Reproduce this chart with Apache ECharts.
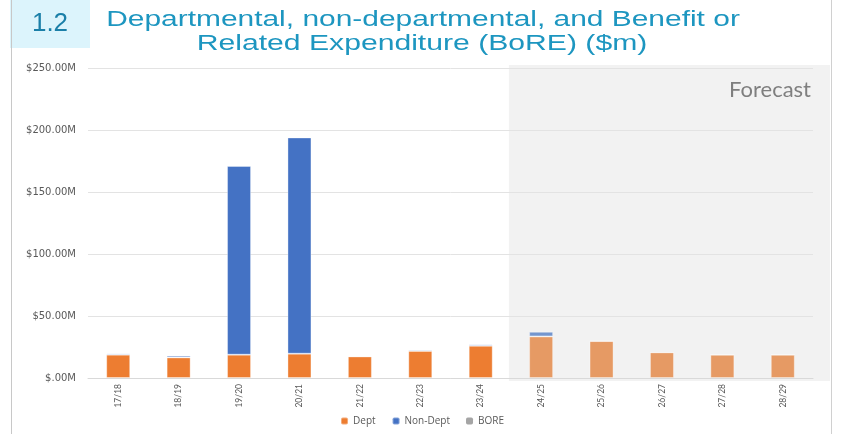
<!DOCTYPE html>
<html><head><meta charset="utf-8">
<script src="https://cdn.jsdelivr.net/npm/echarts@6/dist/echarts.min.js"></script>
<style>html,body{margin:0;padding:0;background:#fff;}#c{width:844px;height:434px;}</style>
</head><body><div id="c"></div>
<script>
const categories = ['17/18','18/19','19/20','20/21','21/22','22/23','23/24','24/25','25/26','26/27','27/28','28/29'];
const deptValues = [18.8, 16.6, 18.8, 19.6, 17.4, 21.8, 26.0, 33.5, 29.8, 20.7, 18.8, 18.8];
const nonDeptValues = [1.0, 1.4, 152.2, 174.4, 0, 1.0, 1.1, 3.8, 0, 0, 0, 0];
const boreValues = [0, 0, 0, 0, 0, 0, 0, 0, 0, 0, 0, 0];
const forecastStart = '24/25';
const yTicks = [0, 50, 100, 150, 200, 250];

const fcIdx = categories.indexOf(forecastStart);
function mk(vals, c, fc) {
  return vals.map((v, i) => ({ value: v, itemStyle: { color: i >= fcIdx ? fc : c } }));
}
const chart = echarts.init(document.getElementById('c'));
const font = 'Lato, "Open Sans", sans-serif';
const titleFont = '22px "Liberation Sans", Arial, sans-serif';
chart.setOption({
  animation: false,
  grid: { left: 88, right: 31, top: 68, bottom: 56 },
  legend: {
    bottom: 3, left: 'center', itemWidth: 7, itemHeight: 7, itemGap: 16,
    textStyle: { fontSize: 10, color: '#595959', fontFamily: '"Open Sans", sans-serif' },
    data: [{name:'Dept', itemStyle:{color:'#ED7D31'}}, {name:'Non-Dept', itemStyle:{color:'#4472C4'}}, {name:'BORE', itemStyle:{color:'#A5A5A5'}}]
  },
  xAxis: {
    type: 'category', data: categories,
    axisLine: { lineStyle: { color: '#d9d9d9' } }, axisTick: { show: false },
    axisLabel: { rotate: 90, fontSize: 8.5, color: '#595959', fontFamily: font, margin: 6 }
  },
  yAxis: {
    type: 'value', min: yTicks[0], max: yTicks[yTicks.length-1], interval: 50,
    axisLine: { show: false }, axisTick: { show: false },
    splitLine: { lineStyle: { color: '#e3e3e3' } },
    axisLabel: { fontSize: 10, color: '#595959', fontFamily: '"DejaVu Sans", sans-serif', margin: 12,
      formatter: v => v === 0 ? '$.00M' : '$' + v.toFixed(2) + 'M' }
  },
  series: [
    { name: 'Dept', type: 'bar', stack: 's', barWidth: 24, z: 3, data: mk(deptValues, '#ED7D31', '#E69A64'),
      itemStyle: { borderColor: 'rgba(255,255,255,0.35)', borderWidth: 1 } },
    { name: 'Non-Dept', type: 'bar', stack: 's', barWidth: 24, z: 3, data: mk(nonDeptValues, '#4472C4', '#7496CE'),
      itemStyle: { borderColor: 'rgba(255,255,255,0.35)', borderWidth: 1 } },
    { name: 'BORE', type: 'bar', stack: 's', barWidth: 24, z: 3, data: mk(boreValues, '#A5A5A5', '#C0C0C0') }
  ]
});

const p0 = chart.convertToPixel({ xAxisIndex: 0 }, forecastStart);
const p1 = chart.convertToPixel({ xAxisIndex: 0 }, categories[fcIdx + 1]);
const band = p1 - p0;
const xLeft = p0 - band / 2;
const yTop = chart.convertToPixel({ yAxisIndex: 0 }, yTicks[yTicks.length-1]);
const yBot = chart.convertToPixel({ yAxisIndex: 0 }, 0);
chart.setOption({
  graphic: [
    { type: 'rect', z: -10, silent: true, shape: { x: xLeft - 2, y: yTop - 3, width: 830 - xLeft + 2, height: yBot - yTop + 6 }, style: { fill: '#f2f2f2' } },
    { type: 'text', z: 10, x: 811, y: 90, style: { text: 'Forecast', fill: '#7f7f7f', font: '22px ' + font, align: 'right', verticalAlign: 'middle' } },
    { type: 'rect', z: 5, shape: { x: 10, y: 0, width: 80, height: 48 }, style: { fill: '#dcf4fc' } },
    { type: 'line', z: 6, shape: { x1: 11.5, y1: 0, x2: 11.5, y2: 434 }, style: { stroke: '#c8c8c8', lineWidth: 1 } },
    { type: 'line', z: 6, shape: { x1: 831.5, y1: 0, x2: 831.5, y2: 434 }, style: { stroke: '#d0d0d0', lineWidth: 1 } },
    { type: 'text', z: 7, x: 50, y: 24, style: { text: '1.2', fill: '#1a7fa8', font: '26px "Liberation Sans", Arial, sans-serif', align: 'center', verticalAlign: 'middle' } },
    { type: 'text', z: 7, x: 423, y: 20, scaleX: 1.36, style: { text: 'Departmental, non-departmental, and Benefit or', fill: '#1d96c0', font: titleFont, align: 'center', verticalAlign: 'middle' } },
    { type: 'text', z: 7, x: 422, y: 44, scaleX: 1.37, style: { text: 'Related Expenditure (BoRE) ($m)', fill: '#1d96c0', font: titleFont, align: 'center', verticalAlign: 'middle' } }
  ]
});
</script></body></html>
